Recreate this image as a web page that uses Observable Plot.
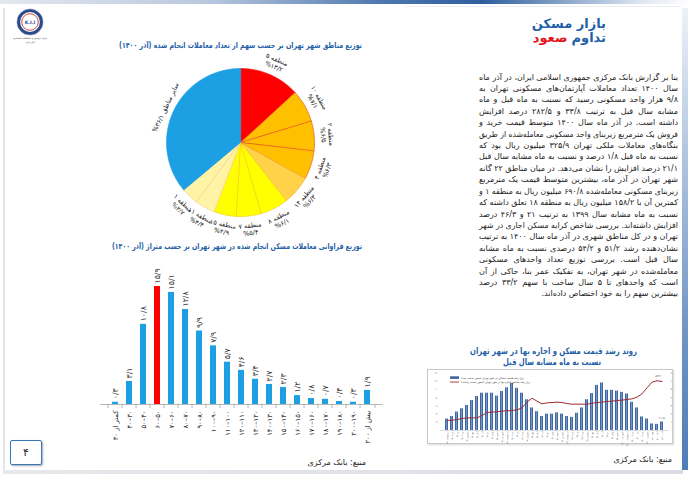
<!DOCTYPE html>
<html><head><meta charset="utf-8">
<script src="https://cdn.jsdelivr.net/npm/d3@7"></script>
<script src="https://cdn.jsdelivr.net/npm/@observablehq/plot@0.6"></script>
<style>
body{margin:0;background:#fff;font-family:'DejaVu Sans',sans-serif;}
#page{position:relative;width:690px;height:477px;overflow:hidden;background:#fff;}
#page svg{overflow:visible;}
</style></head><body><div id="page"></div>
<script>
// ---------- DATA ----------
const pieRegions = ["منطقه ۵","منطقه ۱۰","منطقه ۲","منطقه ۴","منطقه ۱۴","منطقه ۸","منطقه ۷","منطقه ۱۵","منطقه ۱۱","منطقه ۱","سایر مناطق"];
const pieShares = [13.2, 7.1, 6.5, 6.3, 6.3, 6.1, 5.4, 4.9, 4.4, 3.7, 36.1];

const sizeBins = ["کمتر از ۳۰","۳۰–۴۰","۴۰–۵۰","۵۰–۶۰","۶۰–۷۰","۷۰–۸۰","۸۰–۹۰","۹۰–۱۰۰","۱۰۰–۱۱۰","۱۱۰–۱۲۰","۱۲۰–۱۳۰","۱۳۰–۱۴۰","۱۴۰–۱۵۰","۱۵۰–۱۶۰","۱۶۰–۱۷۰","۱۷۰–۱۸۰","۱۸۰–۱۹۰","۱۹۰–۲۰۰","بیش از ۲۰۰"];
const sizeShares = [0.3, 3.1, 10.8, 15.9, 15.1, 12.8, 9.9, 7.9, 5.7, 4.6, 3.4, 2.7, 2.3, 1.2, 0.8, 0.7, 0.4, 0.3, 1.9];
const highlightBin = "۵۰–۶۰";

const trendMonths = ["اردیبهشت ۹۷","خرداد ۹۷","تیر ۹۷","مرداد ۹۷","شهریور ۹۷","مهر ۹۷","آبان ۹۷","آذر ۹۷","دی ۹۷","بهمن ۹۷","اسفند ۹۷",
 "فروردین ۹۸","اردیبهشت ۹۸","خرداد ۹۸","تیر ۹۸","مرداد ۹۸","شهریور ۹۸","مهر ۹۸","آبان ۹۸","آذر ۹۸","دی ۹۸","بهمن ۹۸","اسفند ۹۸",
 "فروردین ۹۹","اردیبهشت ۹۹","خرداد ۹۹","تیر ۹۹","مرداد ۹۹","شهریور ۹۹","مهر ۹۹","آبان ۹۹","آذر ۹۹","دی ۹۹","بهمن ۹۹","اسفند ۹۹",
 "فروردین ۱۴۰۰","اردیبهشت ۱۴۰۰","خرداد ۱۴۰۰","تیر ۱۴۰۰","مرداد ۱۴۰۰","شهریور ۱۴۰۰","مهر ۱۴۰۰","آبان ۱۴۰۰","آذر ۱۴۰۰"];
const priceGrowth = [28,34,45,53,61,73,83,91,91,91,84,95,104,115,103,91,75,55,46,34,40,40,43,40,34,32,42,55,75,90,110,116,98,98,96,93,89,69,55,33,28,16,15,20.8];
const rentGrowth = [12.2,12.6,13.4,14.6,15.4,15.4,15.4,18.3,22,22.4,22.8,23.6,24,24.4,25.2,27.6,34.6,39.4,35.8,32.5,33.7,34.1,34.6,34.1,32.9,32.1,32.1,32.1,32.1,33.3,34.1,34.6,35.4,35.8,36.6,37,37.8,38.6,40.7,44.7,52,59,60.6,59.8];
const leftTicks = [0,20,40,60,80,100,120,140];
const rightTicks = [0,10,20,30,40,50,60,70];
const trendNotes = ["۲۰/۸","۵۴/۲"];
const legendItems = ["نرخ رشد قیمت مسکن در شهر تهران (محور سمت چپ)","نرخ رشد شاخص اجاره بها در شهر تهران (محور سمت راست)"];

const paragraph = [
"بنا بر گزارش بانک مرکزی جمهوری اسلامی ایران، در آذر ماه",
"سال ۱۴۰۰ تعداد معاملات آپارتمان‌های مسکونی تهران به",
"۹/۸ هزار واحد مسکونی رسید که نسبت به ماه قبل و ماه",
"مشابه سال قبل به ترتیب ۳۳/۸ و ۲۸۲/۵ درصد افزایش",
"داشته است. در آذر ماه سال ۱۴۰۰ متوسط قیمت خرید و",
"فروش یک مترمربع زیربنای واحد مسکونی معامله‌شده از طریق",
"بنگاه‌های معاملات ملکی تهران ۳۲۵/۹ میلیون ریال بود که",
"نسبت به ماه قبل ۱/۸ درصد و نسبت به ماه مشابه سال قبل",
"۲۱/۱ درصد افزایش را نشان می‌دهد. در میان مناطق ۲۲ گانه",
"شهر تهران در آذر ماه، بیشترین متوسط قیمت یک مترمربع",
"زیربنای مسکونی معامله‌شده ۶۹۰/۸ میلیون ریال به منطقه ۱ و",
"کمترین آن با ۱۵۸/۲ میلیون ریال به منطقه ۱۸ تعلق داشته که",
"نسبت به ماه مشابه سال ۱۳۹۹ به ترتیب ۲۱ و ۴۶/۳ درصد",
"افزایش داشته‌اند. بررسی شاخص کرایه مسکن اجاری در شهر",
"تهران و در کل مناطق شهری در آذر ماه سال ۱۴۰۰ به ترتیب",
"نشان‌دهنده رشد ۵۱/۲ و ۵۴/۲ درصدی نسبت به ماه مشابه",
"سال قبل است. بررسی توزیع تعداد واحدهای مسکونی",
"معامله‌شده در شهر تهران، به تفکیک عمر بنا، حاکی از آن",
"است که واحدهای تا ۵ سال ساخت با سهم ۳۳/۲ درصد",
"بیشترین سهم را به خود اختصاص داده‌اند."
];
const pieTitle = "توزیع مناطق شهر تهران بر حسب سهم از تعداد معاملات انجام شده (آذر ۱۴۰۰)";
const barTitle = "توزیع فراوانی معاملات مسکن انجام شده در شهر تهران بر حسب متراژ (آذر ۱۴۰۰)";
const trendTitle = ["روند رشد قیمت مسکن و اجاره بها در شهر تهران","نسبت به ماه مشابه سال قبل"];
const headTitle = ["بازار مسکن","تداوم","صعود"];
const sourceText = "منبع: بانک مرکزی";
const pageNumber = "۴";

// ---------- HELPERS ----------
const FONT = "'DejaVu Sans', sans-serif";
const RLM = "\u200F";
const fa = s => String(s).replace(/\d/g, d => "۰۱۲۳۴۵۶۷۸۹"[d]);
const fmt1 = v => fa(v.toFixed(1).replace(".", "/"));
const page = document.getElementById("page");
function place(el, left, top) { el.style.position = "absolute"; el.style.left = left + "px"; el.style.top = top + "px"; page.appendChild(el); return el; }
function div(left, top, w, h, css) { const d = document.createElement("div"); d.style.cssText = css || ""; d.style.width = w + "px"; d.style.height = h + "px"; return place(d, left, top); }

const BLUE = "#1C9FE3", RED = "#FF0000", TITLE_BLUE = "#1F5FA8";

// ---------- PAGE FRAME ----------
div(0, 0, 690, 4, "background:linear-gradient(to right,#e4e8ef 0%,#b9c8de 30%,#4f78b0 55%,#2f5f9e 70%,#dfe7f2 93%,#ffffff 100%)");
div(3, 8, 2, 464, "background:#e2e5ea");
div(3, 470, 680, 4, "background:linear-gradient(to right,#e6e8ec,#d9dde3)");
div(682, 8, 6, 462, "background:linear-gradient(to bottom,#eef2f8 0%,#b5c8e2 30%,#6f95c6 70%,#4f7db8 100%)");
div(405, 6, 277, 1, "background:#eceff3");

// overlay svg for texts
const NS = "http://www.w3.org/2000/svg";
const ov = document.createElementNS(NS, "svg");
ov.setAttribute("width", 690); ov.setAttribute("height", 477);
place(ov, 0, 0);
function txt(parent, str, x, y, attrs) {
  const t = document.createElementNS(NS, "text");
  t.setAttribute("x", x); t.setAttribute("y", y);
  t.setAttribute("font-family", "DejaVu Sans");
  for (const k in attrs) t.setAttribute(k, attrs[k]);
  t.textContent = str;
  parent.appendChild(t);
  return t;
}
function fitWidth(t, w) { t.setAttribute("textLength", w); t.setAttribute("lengthAdjust", "spacingAndGlyphs"); }

// logo
const lg = document.createElementNS(NS, "g");
ov.appendChild(lg);
lg.innerHTML = `<circle cx="30" cy="22" r="11.5" fill="#fff" stroke="#2b4a8b" stroke-width="3.2"/>
<circle cx="30" cy="22" r="8.3" fill="#fff" stroke="#c0392b" stroke-width="0.9"/>
<circle cx="30" cy="22" r="13.2" fill="none" stroke="#9fb3d6" stroke-width="0.5"/>`;
txt(lg, "K.I.I", 30, 23.6, {"text-anchor": "middle", "font-size": 4.6, fill: "#2b4a8b", "font-weight": "bold"});
txt(lg, RLM + "مرکز پژوهش و مطالعات اقتصادی" + RLM, 30, 39, {"text-anchor": "middle", "font-size": 2.4, fill: "#333"});
txt(lg, RLM + "اتاق ایران" + RLM, 30, 42.5, {"text-anchor": "middle", "font-size": 2.4, fill: "#333"});

// header title
txt(ov, RLM + headTitle[0] + RLM, 606, 28, {"text-anchor": "end", "font-size": 13, "font-weight": "bold", fill: "#1F5FA8"});
const h2a = txt(ov, RLM + headTitle[1] + RLM, 606, 42, {"text-anchor": "end", "font-size": 13, "font-weight": "bold", fill: "#1F5FA8"});
const h2w = h2a.getComputedTextLength();
txt(ov, RLM + headTitle[2] + RLM, 606 - h2w - 4, 42, {"text-anchor": "end", "font-size": 13, "font-weight": "bold", fill: "#E3161C"});

// chart titles
fitWidth(txt(ov, RLM + pieTitle + RLM, 362, 48, {"text-anchor": "end", "font-size": 8, "font-weight": "bold", fill: TITLE_BLUE}), 243);
fitWidth(txt(ov, RLM + barTitle + RLM, 362, 248.5, {"text-anchor": "end", "font-size": 8, "font-weight": "bold", fill: TITLE_BLUE}), 250);
fitWidth(txt(ov, RLM + trendTitle[0] + RLM, 637, 353.5, {"text-anchor": "end", "font-size": 9, "font-weight": "bold", fill: TITLE_BLUE}), 167);
fitWidth(txt(ov, RLM + trendTitle[1] + RLM, 601, 365, {"text-anchor": "end", "font-size": 9, "font-weight": "bold", fill: TITLE_BLUE}), 98);

// paragraph
paragraph.forEach((line, i) => {
  const t = txt(ov, RLM + line + RLM, 678, 79.5 + i * 11.42, {"text-anchor": "end", "font-size": 8, fill: "#1a1a1a"});
  if (i < paragraph.length - 1) {
    const w = t.getComputedTextLength();
    const target = 199;
    if (w > target) fitWidth(t, target);
    else { const n = (line.match(/ /g) || []).length; if (n) t.setAttribute("word-spacing", ((target - w) / n).toFixed(2)); }
  }
});

// sources
txt(ov, RLM + sourceText + RLM, 366, 465, {"text-anchor": "end", "font-size": 8, fill: "#1a1a1a"});
txt(ov, RLM + sourceText + RLM, 672, 462, {"text-anchor": "end", "font-size": 8, fill: "#1a1a1a"});

// page number box
const pn = div(10, 440, 30, 23, "border:1.5px solid #3a78b5;border-radius:2px;box-shadow:1px 1px 2px #a0a8b4;background:#fff;text-align:center;line-height:23px;font-size:11px;color:#222;font-family:'DejaVu Sans'");
pn.textContent = pageNumber;

// ---------- PIE ----------
const R0 = 74;
const arcs = d3.pie().sort(null).value(d => d)(pieShares);
const slicePts = [];
arcs.forEach((a, i) => {
  slicePts.push({i, x: 0, y: 0});
  const n = Math.max(2, Math.ceil((a.endAngle - a.startAngle) / 0.02));
  for (let k = 0; k <= n; k++) { const t = a.startAngle + (a.endAngle - a.startAngle) * k / n; slicePts.push({i, x: Math.sin(t), y: Math.cos(t)}); }
});
const sliceFill = ["#FF0000","#FFC000","#FFC000","#FFC000","#FFD24A","#FFFF00","#FFFF00","#FFFF00","#FFF3A6","#FFF3A6","#1C9FE3"];
const sliceStroke = ["#FF0000","#E0451C","#E0451C","#E0451C","#F0A030","#F5C518","#F5C518","#F5C518","#F5C98A","#F5C98A","#1C9FE3"];
const pieLab = arcs.map((a, i) => {
  const m = (a.startAngle + a.endAngle) / 2;
  const deg = m * 180 / Math.PI;
  const rot = deg <= 90 ? deg : (deg >= 270 ? deg - 360 : deg - 180);
  const single = i === arcs.length - 1;
  const rr = 1 + (single ? 9 : 13) / R0;
  const text = single ? RLM + pieRegions[i] + " " + fmt1(pieShares[i]) + "%" + RLM
                      : pieRegions[i] + "\n%" + fmt1(pieShares[i]);
  return {x: rr * Math.sin(m), y: rr * Math.cos(m), rot, text};
});
const piePlot = Plot.plot({
  width: 240, height: 200, margin: 0,
  x: {domain: [-120 / R0, 120 / R0], axis: null},
  y: {domain: [-100 / R0, 100 / R0], axis: null},
  style: {background: "transparent", fontFamily: FONT, overflow: "visible"},
  marks: [
    ...arcs.map((a, i) => Plot.line(slicePts.filter(p => p.i === i), {x: "x", y: "y", fill: sliceFill[i], stroke: sliceStroke[i], strokeWidth: 0.6, curve: "linear-closed"})),
    Plot.text(pieLab, {x: "x", y: "y", text: "text", rotate: "rot", fontSize: 6.5, fill: "#1a1a1a", lineHeight: 1.15})
  ]
});
place(piePlot, 120, 42);

// ---------- BAR CHART ----------
const bars = sizeBins.map((b, i) => ({bin: b, share: sizeShares[i]}));
const step = 283 / (19 - 0.55 + 2 * 0.265);
const barPlot = Plot.plot({
  width: 295, height: 201, marginTop: 10, marginBottom: 50, marginLeft: 5, marginRight: 7,
  x: {domain: sizeBins, paddingInner: 0.55, paddingOuter: 0.265, tickRotate: -90, tickSize: 0, tickPadding: 6, label: null, tickFormat: d => RLM + d + RLM},
  y: {domain: [0, 19], axis: null},
  style: {background: "transparent", fontFamily: FONT, fontSize: "6.8px", color: "#1a1a1a", overflow: "visible"},
  marks: [
    Plot.barY(bars.filter(d => d.bin !== highlightBin), {x: "bin", y: "share", fill: BLUE}),
    Plot.barY(bars.filter(d => d.bin === highlightBin), {x: "bin", y: "share", fill: RED}),
    Plot.ruleY([0], {stroke: "#a6a6a6", strokeWidth: 0.8}),
    Plot.ruleX(sizeBins, {x: d => d, dx: -step / 2, y1: 0, y2: -0.55, stroke: "#a6a6a6", strokeWidth: 0.8}),
    Plot.ruleX(sizeBins.slice(-1), {x: d => d, dx: step / 2, y1: 0, y2: -0.55, stroke: "#a6a6a6", strokeWidth: 0.8}),
    Plot.text(bars, {x: "bin", y: "share", text: d => fmt1(d.share), rotate: -90, textAnchor: "start", dy: -3, fontSize: 7.8, fill: "#333"})
  ]
});
place(barPlot, 95, 253);

// ---------- TREND CHART ----------
div(427, 369, 246, 75, "border:1px solid #c9c9c9;box-shadow:1px 1px 2px #d8d8d8;background:#fff;box-sizing:border-box");
const trend = trendMonths.map((m, i) => ({m, price: priceGrowth[i], rent: rentGrowth[i]}));
const rentScale = leftTicks[leftTicks.length - 1] / rightTicks[rightTicks.length - 1];
const trendPlot = Plot.plot({
  width: 247, height: 75, marginTop: 3.6, marginBottom: 14, marginLeft: 13, marginRight: 6,
  x: {domain: trendMonths, paddingInner: 0.36, paddingOuter: 0.2, tickRotate: -90, tickSize: 0, tickPadding: 1.2, label: null, tickFormat: d => RLM + d + RLM},
  y: {domain: [0, 140], axis: null},
  style: {background: "transparent", fontFamily: FONT, fontSize: "2.2px", color: "#444", overflow: "visible"},
  marks: [
    Plot.barY(trend, {x: "m", y: "price", fill: "url(#trendBarGrad)"}),
    Plot.ruleY([0], {stroke: "#bbb", strokeWidth: 0.5}),
    Plot.line(trend, {x: "m", y: d => d.rent * rentScale, stroke: "#9E2A2F", strokeWidth: 1}),
    Plot.text(leftTicks, {y: d => d, text: d => fa(d), frameAnchor: "left", dx: -2, textAnchor: "end", fontSize: 2.6, fill: "#555"}),
    Plot.text(rightTicks, {y: d => d * rentScale, text: d => fa(d), frameAnchor: "right", dx: 2, textAnchor: "start", fontSize: 2.6, fill: "#555"}),
    Plot.text([trend[trend.length - 1]], {x: "m", y: "price", text: () => trendNotes[0], dy: -4, fontSize: 2.8, fill: "#333"}),
    Plot.text([trend[trend.length - 1]], {x: "m", y: d => d.rent * rentScale, text: () => trendNotes[1], dy: -5, dx: -4, fontSize: 2.8, fill: "#333"})
  ]
});
const defs = d3.select(trendPlot).insert("defs", ":first-child");
const g = defs.append("linearGradient").attr("id", "trendBarGrad").attr("x1", 0).attr("x2", 1).attr("y1", 0).attr("y2", 0);
g.append("stop").attr("offset", "0%").attr("stop-color", "#2a4f86");
g.append("stop").attr("offset", "50%").attr("stop-color", "#6f97cc");
g.append("stop").attr("offset", "100%").attr("stop-color", "#2a4f86");
place(trendPlot, 427, 369);

// legend inside trend chart
const lgd = document.createElementNS(NS, "g");
ov.appendChild(lgd);
lgd.innerHTML = `<rect x="450" y="376.3" width="9" height="2.6" fill="#3c64a0"/><line x1="450" x2="459" y1="382" y2="382" stroke="#9E2A2F" stroke-width="0.9"/>`;
txt(lgd, RLM + legendItems[0] + RLM, 461, 378.6, {"font-size": 2.7, fill: "#333"});
txt(lgd, RLM + legendItems[1] + RLM, 461, 383.2, {"font-size": 2.7, fill: "#333"});
page.appendChild(ov); // keep overlay texts on top
</script></body></html>
